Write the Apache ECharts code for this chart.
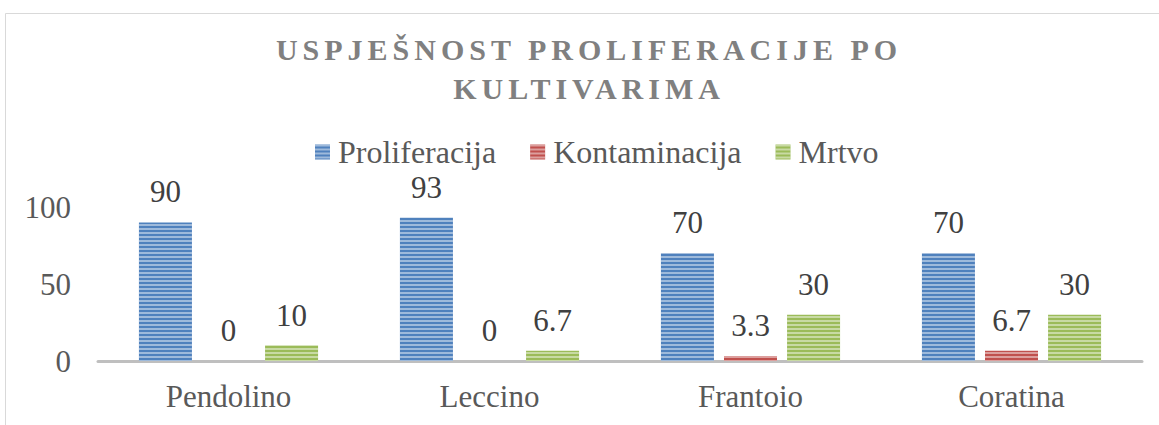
<!DOCTYPE html>
<html>
<head>
<meta charset="utf-8">
<script src="https://cdn.jsdelivr.net/npm/echarts@6/dist/echarts.min.js"></script>
<style>
  html, body { margin: 0; padding: 0; background: #fff; }
  #chart { width: 1159px; height: 425px; }
  /* razmak slova u naslovu (samo bold tekst) */
  #chart text[style*="bold"] { letter-spacing: 5px; }
</style>
</head>
<body>
<div id="chart"></div>
<script>
  var kultivari = ['Pendolino', 'Leccino', 'Frantoio', 'Coratina'];
  var proliferacija = [90, 93, 70, 70];
  var kontaminacija = [0, 0, 3.3, 6.7];
  var mrtvo = [10, 6.7, 30, 30];
  var yTicks = [0, 50, 100];

  var font = 'Liberation Serif';

  var stripes = {
    symbol: 'rect',
    symbolSize: 1,
    dashArrayX: [1, 0],
    dashArrayY: [2, 2],
    rotation: 0,
    color: 'rgba(255,255,255,0.45)'
  };

  function barSeries(name, data, color) {
    return {
      name: name,
      type: 'bar',
      data: data,
      barWidth: 53,
      barGap: '19%',
      itemStyle: { color: color, decal: stripes },
      label: {
        show: true,
        position: 'top',
        distance: 15,
        color: '#404040',
        fontFamily: font,
        fontSize: 31
      }
    };
  }

  var myChart = echarts.init(document.getElementById('chart'), null, { renderer: 'svg' });
  var option = {
    animation: false,
    textStyle: { fontFamily: font },
    title: {
      text: 'USPJEŠNOST PROLIFERACIJE PO\nKULTIVARIMA',
      left: 589,
      textAlign: 'center',
      top: 30,
      padding: 0,
      textStyle: {
        color: '#808080',
        fontFamily: font,
        fontWeight: 'bold',
        fontSize: 30,
        lineHeight: 39
      }
    },
    legend: {
      top: 131,
      left: 310,
      itemWidth: 15,
      itemHeight: 15,
      itemGap: 34,
      icon: 'rect',
      textStyle: { color: '#595959', fontFamily: font, fontSize: 32, padding: [0, 0, 0, 3] },
      data: ['Proliferacija', 'Kontaminacija', 'Mrtvo']
    },
    graphic: [{
      type: 'rect',
      left: 3,
      top: 11,
      z: -10,
      shape: { width: 1300, height: 600 },
      style: { fill: 'none', stroke: '#d9d9d9', lineWidth: 1 }
    }],
    grid: { left: 98, right: 17, top: 207, bottom: 64 },
    xAxis: {
      type: 'category',
      data: kultivari,
      axisLine: { lineStyle: { color: '#bfbfbf', width: 3 } },
      axisTick: { show: false },
      axisLabel: { color: '#595959', fontFamily: font, fontSize: 31, margin: 20 }
    },
    yAxis: {
      type: 'value',
      min: yTicks[0],
      max: yTicks[yTicks.length - 1],
      interval: yTicks[1] - yTicks[0],
      splitLine: { show: false },
      axisLine: { show: false },
      axisTick: { show: false },
      axisLabel: { color: '#595959', fontFamily: font, fontSize: 31, margin: 27 }
    },
    series: [
      barSeries('Proliferacija', proliferacija, '#4f81bd'),
      barSeries('Kontaminacija', kontaminacija, '#c0504d'),
      barSeries('Mrtvo', mrtvo, '#9bbb59')
    ]
  };
  myChart.setOption(option);
</script>
</body>
</html>
